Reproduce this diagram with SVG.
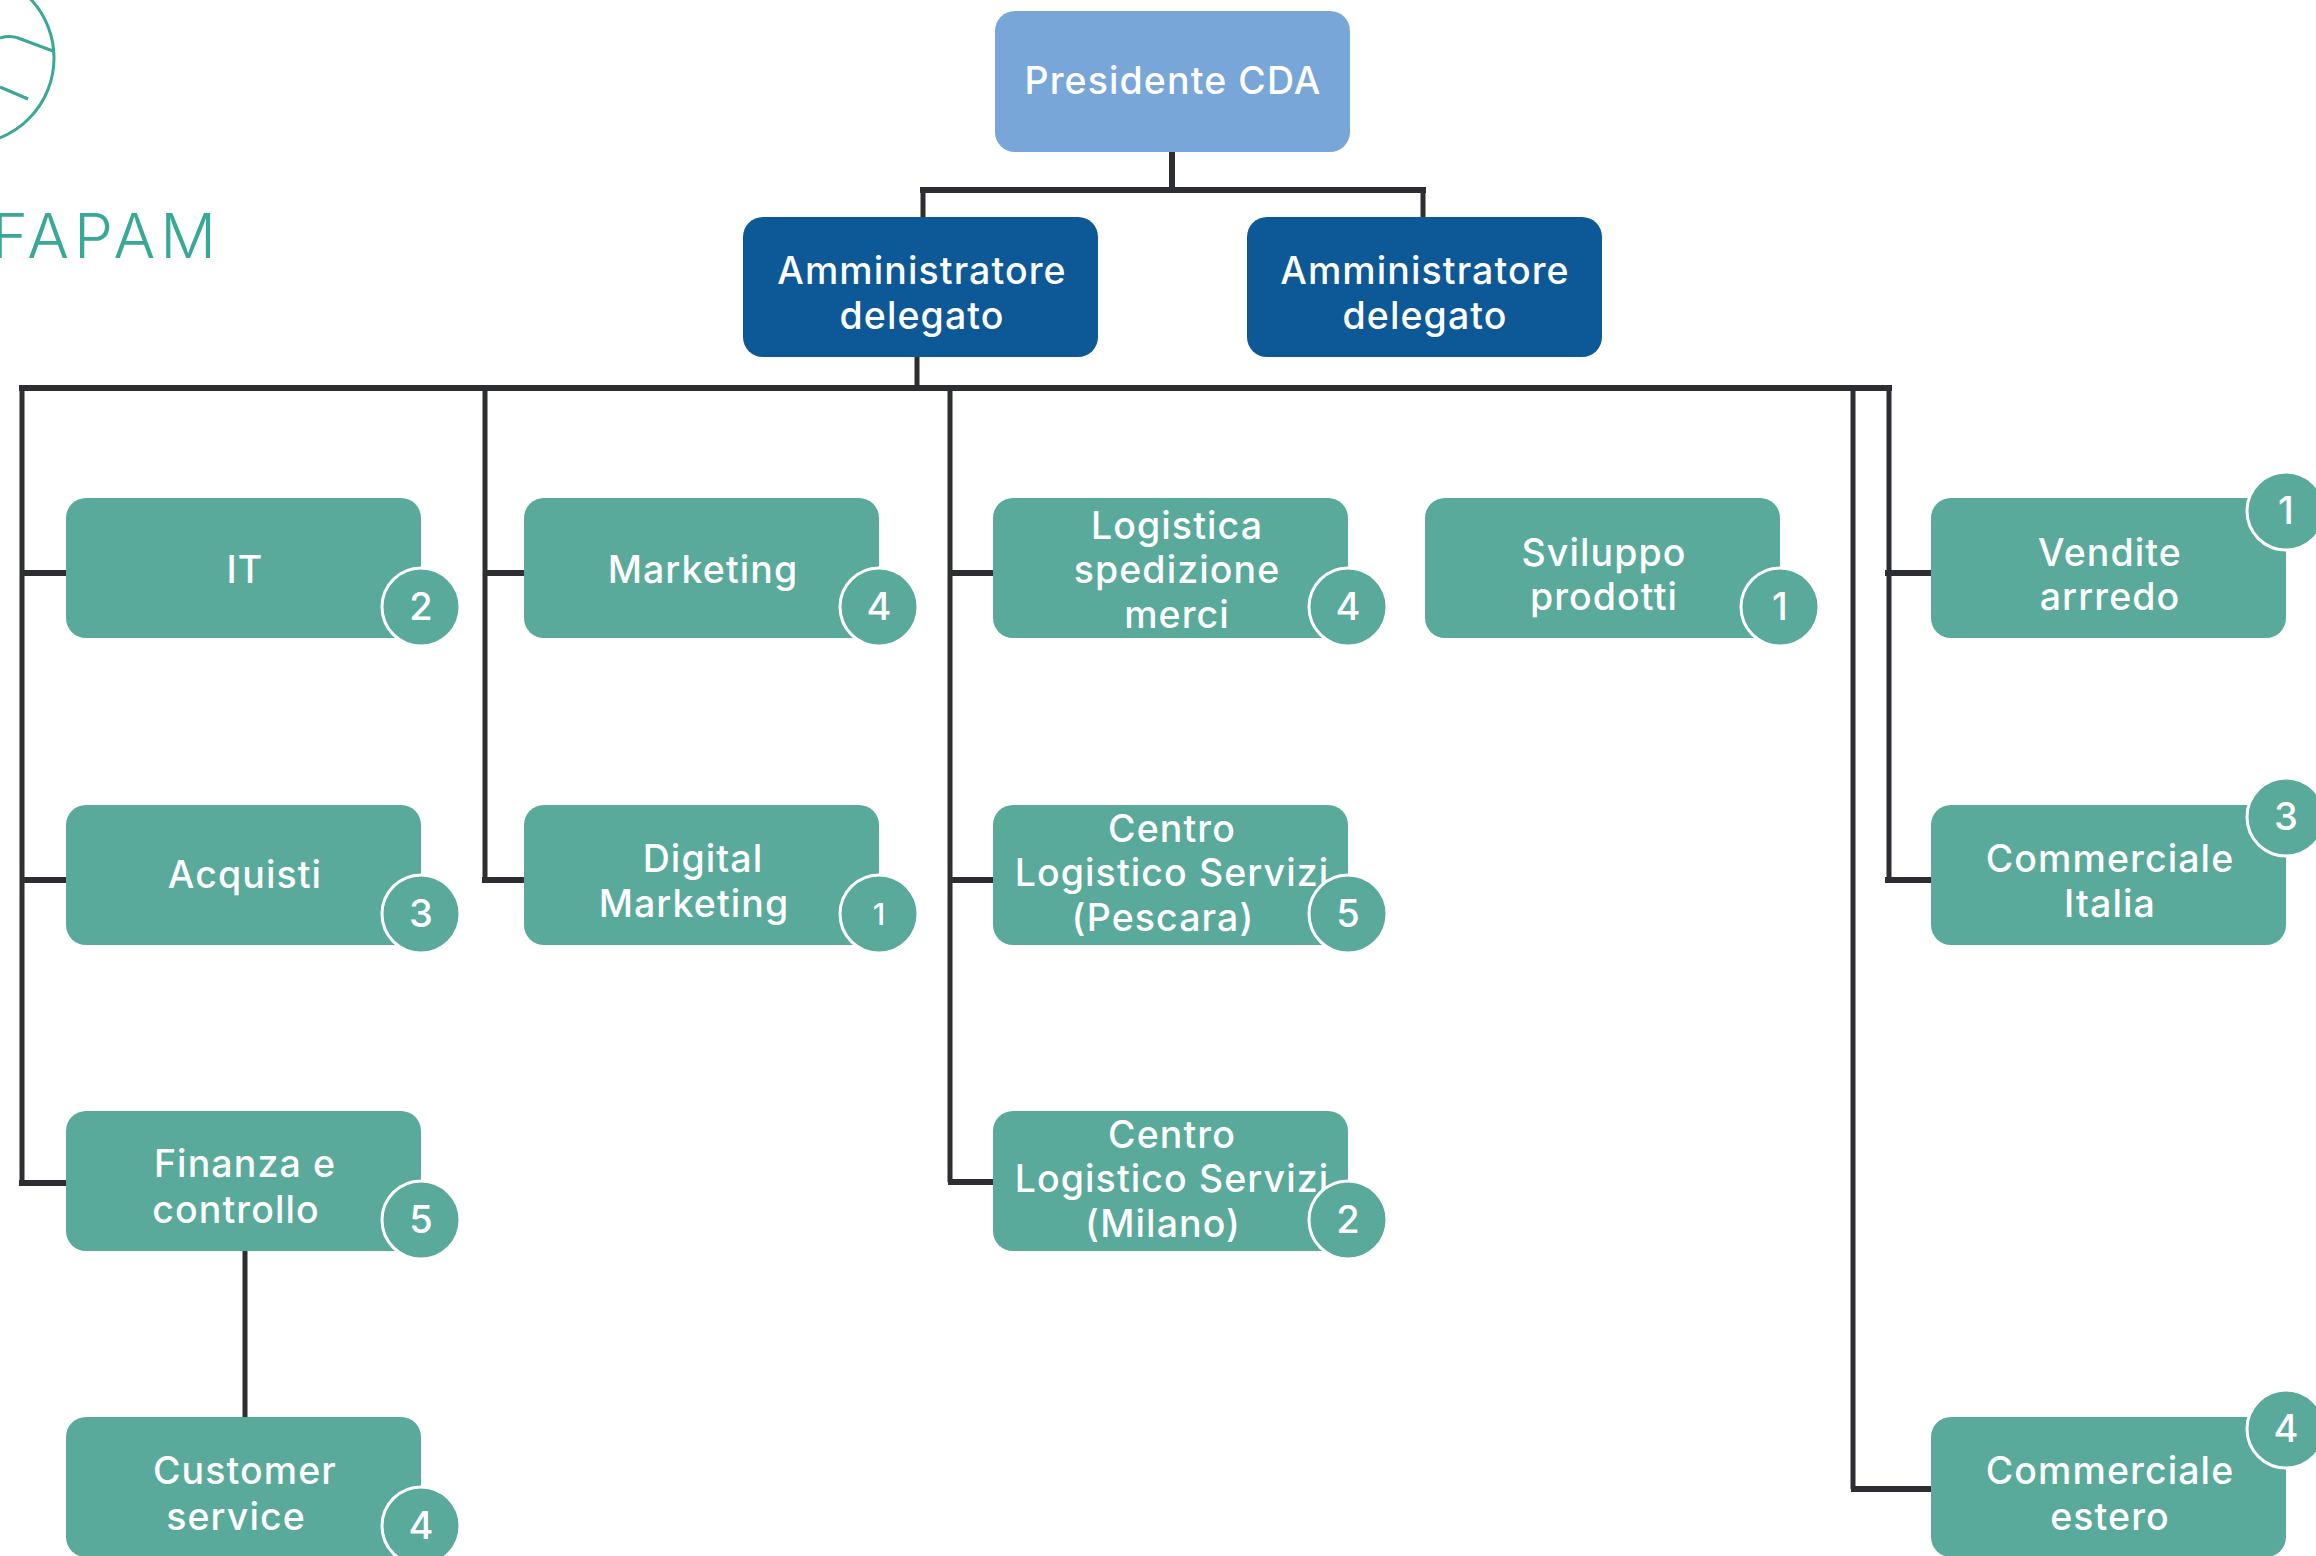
<svg xmlns="http://www.w3.org/2000/svg" width="2316" height="1556" viewBox="0 0 2316 1556">
<style>
.bg{fill:#fff}
.box{fill:#59aa9b}
.pres{fill:#78a6d8}
.ad{fill:#0d5897}
.t{font-family:"Inter","Liberation Sans",sans-serif;font-size:37.5px;letter-spacing:1.1px;fill:#fff;text-anchor:middle;font-weight:500}
.b{fill:#59aa9b;stroke:#fff;stroke-width:3}
.n{font-size:38px;letter-spacing:0}
.c{fill:none;stroke:#2c2e33;stroke-width:5}
.h{fill:none;stroke:#2c2e33;stroke-width:6}
.lg{fill:none;stroke:#3aa896;stroke-width:3}
.lt{font-family:"Inter","Liberation Sans",sans-serif;font-size:62px;letter-spacing:5px;fill:#3aa896;font-weight:300;text-anchor:end}
</style>
<rect class="bg" width="2316" height="1556"/>
<g id="logo">
<circle class="lg" cx="-32" cy="58" r="86"/>
<path class="lg" d="M0 38Q10 35 18 38L53 51M0 87L28 99"/>
<text class="lt" x="221" y="258">FAPAM</text>
</g>
<g id="connectors">
<path class="h" d="M1172 152V190M920 190H1426"/>
<path class="c" d="M923 190V217M1423 190V217M917 357V388"/>
<path class="h" d="M19 388H1892"/>
<path class="c" d="M22 388V1186"/>
<path class="h" d="M22 573H66M22 880H66M19 1183H66"/>
<path class="c" d="M485 388V880"/>
<path class="h" d="M485 573H524M482 880H524"/>
<path class="c" d="M950 388V1182"/>
<path class="h" d="M950 573H993M950 880H993M948 1182H993"/>
<path class="c" d="M1853 388V1489"/>
<path class="h" d="M1851 1489H1931"/>
<path class="c" d="M1889 388V880"/>
<path class="h" d="M1885 573H1931M1885 880H1931"/>
<path class="c" d="M245 1251V1417"/>
</g>
<g id="n-presidente"><rect class="pres" x="995" y="11" width="355" height="141" rx="20"/><text class="t" x="1173" y="94">Presidente CDA</text></g>
<g id="n-ad1"><rect class="ad" x="743" y="217" width="355" height="140" rx="20"/><text class="t" x="922" y="284">Amministratore</text><text class="t" x="922" y="329">delegato</text></g>
<g id="n-ad2"><rect class="ad" x="1247" y="217" width="355" height="140" rx="20"/><text class="t" x="1425" y="284">Amministratore</text><text class="t" x="1425" y="329">delegato</text></g>
<g id="n-it"><rect class="box" x="66" y="498" width="355" height="140" rx="20"/><text class="t" x="245" y="583">IT</text><circle class="b" cx="421" cy="607" r="39"/><text class="t n" x="421" y="620">2</text></g>
<g id="n-acquisti"><rect class="box" x="66" y="805" width="355" height="140" rx="20"/><text class="t" x="245" y="888">Acquisti</text><circle class="b" cx="421" cy="914" r="39"/><text class="t n" x="421" y="927">3</text></g>
<g id="n-finanza"><rect class="box" x="66" y="1111" width="355" height="140" rx="20"/><text class="t" x="245" y="1177">Finanza e</text><text class="t" x="236" y="1223">controllo</text><circle class="b" cx="421" cy="1220" r="39"/><text class="t n" x="421" y="1233">5</text></g>
<g id="n-customer"><rect class="box" x="66" y="1417" width="355" height="140" rx="20"/><text class="t" x="245" y="1484">Customer</text><text class="t" x="236" y="1530">service</text><circle class="b" cx="421" cy="1526" r="39"/><text class="t n" x="421" y="1539">4</text></g>
<g id="n-marketing"><rect class="box" x="524" y="498" width="355" height="140" rx="20"/><text class="t" x="703" y="583">Marketing</text><circle class="b" cx="879" cy="607" r="39"/><text class="t n" x="879" y="620">4</text></g>
<g id="n-digital"><rect class="box" x="524" y="805" width="355" height="140" rx="20"/><text class="t" x="703" y="872">Digital</text><text class="t" x="694" y="917">Marketing</text><circle class="b" cx="879" cy="914" r="39"/><text class="t n" x="879" y="925" style="font-size:30px">1</text></g>
<g id="n-logistica"><rect class="box" x="993" y="498" width="355" height="140" rx="20"/><text class="t" x="1177" y="539">Logistica</text><text class="t" x="1177" y="583">spedizione</text><text class="t" x="1177" y="628">merci</text><circle class="b" cx="1348" cy="607" r="39"/><text class="t n" x="1348" y="620">4</text></g>
<g id="n-pescara"><rect class="box" x="993" y="805" width="355" height="140" rx="20"/><text class="t" x="1172" y="842">Centro</text><text class="t" x="1172" y="886">Logistico Servizi</text><text class="t" x="1163" y="931">(Pescara)</text><circle class="b" cx="1348" cy="914" r="39"/><text class="t n" x="1348" y="927">5</text></g>
<g id="n-milano"><rect class="box" x="993" y="1111" width="355" height="140" rx="20"/><text class="t" x="1172" y="1148">Centro</text><text class="t" x="1172" y="1192">Logistico Servizi</text><text class="t" x="1163" y="1237">(Milano)</text><circle class="b" cx="1348" cy="1220" r="39"/><text class="t n" x="1348" y="1233">2</text></g>
<g id="n-sviluppo"><rect class="box" x="1425" y="498" width="355" height="140" rx="20"/><text class="t" x="1604" y="566">Sviluppo</text><text class="t" x="1604" y="610">prodotti</text><circle class="b" cx="1780" cy="607" r="39"/><text class="t n" x="1780" y="620">1</text></g>
<g id="n-vendite"><rect class="box" x="1931" y="498" width="355" height="140" rx="20"/><text class="t" x="2110" y="566">Vendite</text><text class="t" x="2110" y="610">arrredo</text><circle class="b" cx="2286" cy="511" r="39"/><text class="t n" x="2286" y="524">1</text></g>
<g id="n-italia"><rect class="box" x="1931" y="805" width="355" height="140" rx="20"/><text class="t" x="2110" y="872">Commerciale</text><text class="t" x="2110" y="917">Italia</text><circle class="b" cx="2286" cy="817" r="39"/><text class="t n" x="2286" y="830">3</text></g>
<g id="n-estero"><rect class="box" x="1931" y="1417" width="355" height="140" rx="20"/><text class="t" x="2110" y="1484">Commerciale</text><text class="t" x="2110" y="1530">estero</text><circle class="b" cx="2286" cy="1429" r="39"/><text class="t n" x="2286" y="1442">4</text></g>
</svg>
